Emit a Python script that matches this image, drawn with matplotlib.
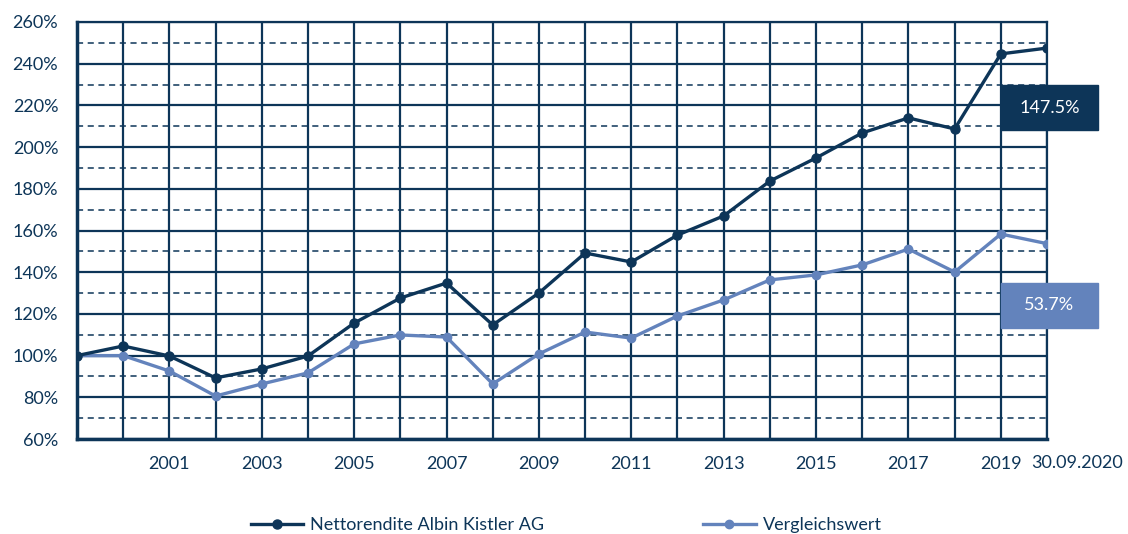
import matplotlib
matplotlib.use("Agg")
import matplotlib.pyplot as plt
from matplotlib.ticker import FixedLocator, FuncFormatter

plt.rcParams['font.family'] = ['Lato', 'DejaVu Sans']

years = list(range(1999, 2021))
xlabels = ["", "", "2001", "", "2003", "", "2005", "", "2007", "", "2009", "",
           "2011", "", "2013", "", "2015", "", "2017", "", "2019", "30.09.2020"]
albin = [100, 104.6, 99.8, 89.3, 93.6, 99.8, 115.6, 127.6, 134.8, 114.7, 130,
         149.2, 144.9, 157.8, 167, 183.7, 194.8, 206.8, 214, 208.7, 244.7, 247.5]
vergleich = [100, 100, 92.6, 80.6, 86.4, 91.7, 105.6, 109.9, 108.9, 86.4, 100.8,
             111.3, 108.4, 119, 126.7, 136.3, 138.7, 143.5, 151.1, 140.1, 158.3, 153.7]
series_names = ["Nettorendite Albin Kistler AG", "Vergleichswert"]
end_labels = ["147.5%", "53.7%"]

NAVY = "#0d3558"
LIGHT = "#6383bc"

fig = plt.figure(figsize=(11.28, 5.34), dpi=100)
ax = fig.add_axes([77/1128, 1-439/534, (1047-77)/1128, (439-22)/534])

x = list(range(len(years)))
ax.set_xlim(0, len(years)-1)
ax.set_ylim(60, 260)

# grid
for xi in x:
    ax.axvline(xi, color=NAVY, lw=1.6, zorder=1)
for yv in range(60, 261, 20):
    ax.axhline(yv, color=NAVY, lw=1.6, zorder=1)
for yv in range(70, 260, 20):
    ax.axhline(yv, color=NAVY, lw=1.1, ls=(0, (4, 3)), zorder=1)

ax.plot(x, albin, color=NAVY, lw=2.4, marker='o', ms=6.5, zorder=4, label=series_names[0])
ax.plot(x, vergleich, color=LIGHT, lw=2.4, marker='o', ms=6, zorder=3, label=series_names[1])

ax.set_xticks(x)
ax.set_xticklabels(xlabels[:-1] + [""])
ax.yaxis.set_major_locator(FixedLocator(range(60, 261, 20)))
ax.yaxis.set_major_formatter(FuncFormatter(lambda v, p: f"{int(v)}%"))
ax.tick_params(axis='y', length=0, labelsize=13, colors=NAVY, pad=13.5)
ax.tick_params(axis='x', length=0, labelsize=13, colors=NAVY, pad=12)

# last category label, placed to the right as in the reference
fig.text(1031/1128, 1-463/534, xlabels[-1], color=NAVY, fontsize=13,
         ha='left', va='center')

for s in ax.spines.values():
    s.set_color(NAVY)
    s.set_linewidth(1.6)
ax.spines['bottom'].set_linewidth(2.5)
ax.spines['left'].set_linewidth(2.5)

# end labels as boxes
def box(ylo, yhi, color, text):
    x0 = 1001/1128; x1 = 1098/1128
    y0 = 1-yhi/534; y1 = 1-ylo/534
    fig.patches.append(plt.Rectangle((x0, y0), x1-x0, y1-y0, transform=fig.transFigure,
                                     color=color, zorder=10))
    fig.text((x0+x1)/2, (y0+y1)/2, text, color="white", ha='center', va='center',
             fontsize=13, zorder=11)

box(85, 130, NAVY, end_labels[0])
box(283, 328, LIGHT, end_labels[1])

leg = fig.legend(loc='center', bbox_to_anchor=(0.502, 1-525/534), ncol=2, frameon=False,
                 fontsize=13, columnspacing=8.8, handlelength=2.9, handletextpad=0.4,
                 borderpad=0, borderaxespad=0)
for t in leg.get_texts():
    t.set_color(NAVY)

fig.savefig("out.png", dpi=100)
